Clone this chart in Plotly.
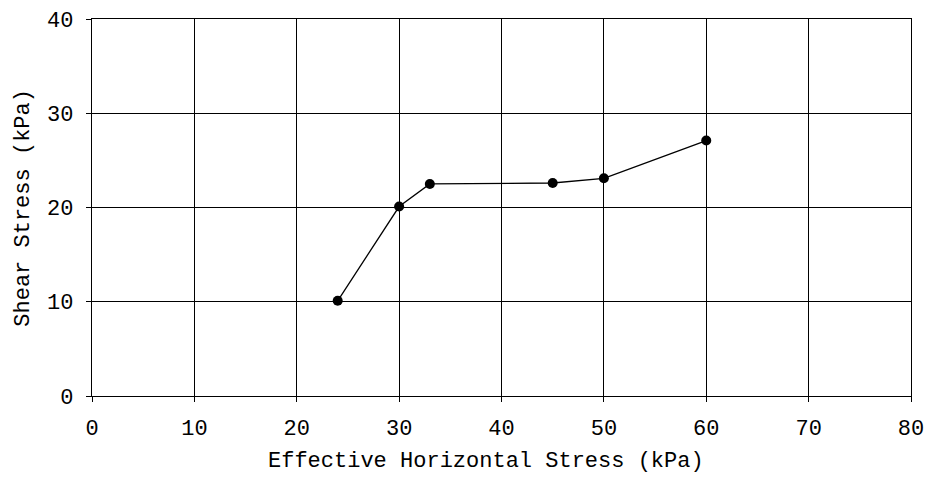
import plotly.graph_objects as go

x_vals = [24, 30, 33, 45, 50, 60]
y_vals = [10.1, 20.1, 22.5, 22.6, 23.1, 27.1]
x_ticks = [0, 10, 20, 30, 40, 50, 60, 70, 80]
y_ticks = [0, 10, 20, 30, 40]
x_title = "Effective Horizontal Stress (kPa)"
y_title = "Shear Stress (kPa)"

font_family = "Courier New, Liberation Mono, monospace"
fs = 22

fig = go.Figure()
fig.add_trace(go.Scatter(
    x=x_vals, y=y_vals, mode="lines+markers",
    line=dict(color="black", width=1.3),
    marker=dict(color="black", size=10),
    showlegend=False,
))

axis_common = dict(
    showgrid=True, gridcolor="black", gridwidth=1,
    showline=True, linecolor="black", linewidth=1.3, mirror=True,
    ticks="outside", ticklen=5, tickcolor="black",
    zeroline=False, automargin=False,
    tickfont=dict(family=font_family, size=fs, color="black"),
)

fig.update_layout(
    width=926, height=477,
    margin=dict(l=92, r=15, t=19, b=81),
    paper_bgcolor="white", plot_bgcolor="white",
    xaxis=dict(range=[0, 80], tickvals=x_ticks, ticktext=[str(v) for v in x_ticks],
               ticklabelstandoff=6, **axis_common),
    yaxis=dict(range=[0, 40], tickvals=y_ticks, ticktext=[str(v) for v in y_ticks],
               ticklabelstandoff=8, **axis_common),
    annotations=[
        dict(text=x_title, xref="paper", yref="paper", x=0.481, y=-0.173,
             xanchor="center", yanchor="middle", showarrow=False,
             font=dict(family=font_family, size=fs, color="black")),
        dict(text=y_title, xref="paper", yref="paper", x=-0.084, y=0.5,
             xanchor="center", yanchor="middle", textangle=-90, showarrow=False,
             font=dict(family=font_family, size=fs, color="black")),
    ],
)

fig.write_html("out.html")
